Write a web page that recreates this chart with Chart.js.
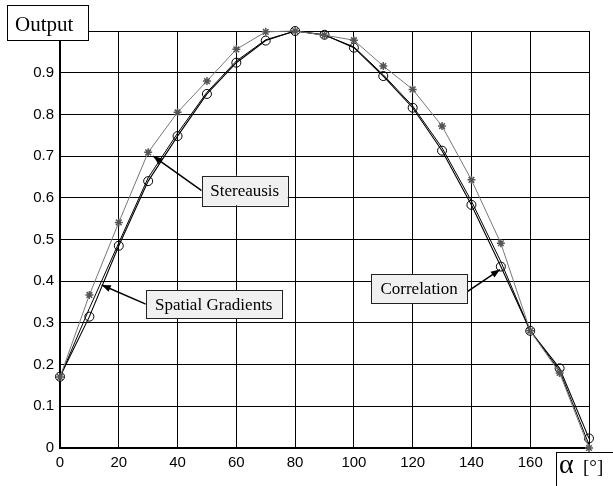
<!DOCTYPE html>
<html>
<head>
<meta charset="utf-8">
<script src="https://cdn.jsdelivr.net/npm/chart.js@4"></script>
<style>
html,body{margin:0;padding:0;background:#fff;}
canvas{display:block;}
</style>
</head>
<body>
<canvas id="c" width="613" height="486"></canvas>
<script>
// ---- data ----
const angles = [0,10,20,30,40,50,60,70,80,90,100,110,120,130,140,150,160,170,180];
const stereausis = [0.17,0.367,0.541,0.709,0.805,0.88,0.956,0.998,1.0,0.99,0.978,0.916,0.86,0.772,0.643,0.491,0.281,0.18,0.0];
const correlation = [0.171,0.315,0.485,0.64,0.748,0.849,0.924,0.977,1.0,0.991,0.96,0.892,0.816,0.713,0.583,0.435,0.281,0.191,0.023];
const spatialGradients = [0.17,0.335,0.492,0.648,0.755,0.853,0.928,0.979,1.0,0.99,0.962,0.895,0.82,0.72,0.592,0.447,0.281,0.185,0.008];
const xTicks = [0,20,40,60,80,100,120,140,160,180];
const yTicks = [0,0.1,0.2,0.3,0.4,0.5,0.6,0.7,0.8,0.9,1.0];

const toPts = (vals) => angles.map((a,i)=>({x:a,y:vals[i]}));

// annotations (data coordinates)
const notes = [
  {text:'Stereausis', box:[48.2,0.653,77.5,0.582], tail:[48.2,0.617], tip:[31.7,0.70]},
  {text:'Spatial Gradients', box:[29.2,0.379,75.4,0.311], tail:[29.2,0.345], tip:[14.2,0.391]},
  {text:'Correlation', box:[105.8,0.4175,138.6,0.347], tail:[138.6,0.375], tip:[149.7,0.428]}
];

const serif = '"Liberation Serif","Times New Roman",serif';
const sans = '"Liberation Sans",Arial,sans-serif';

function arrow(ctx,x1,y1,x2,y2){
  ctx.save();
  ctx.strokeStyle='#000'; ctx.fillStyle='#000'; ctx.lineWidth=1.5;
  ctx.beginPath(); ctx.moveTo(x1,y1); ctx.lineTo(x2,y2); ctx.stroke();
  const ang=Math.atan2(y2-y1,x2-x1), L=9, W=3.5;
  ctx.beginPath();
  ctx.moveTo(x2,y2);
  ctx.lineTo(x2-L*Math.cos(ang)+W*Math.sin(ang), y2-L*Math.sin(ang)-W*Math.cos(ang));
  ctx.lineTo(x2-L*Math.cos(ang)-W*Math.sin(ang), y2-L*Math.sin(ang)+W*Math.cos(ang));
  ctx.closePath(); ctx.fill();
  ctx.restore();
}

const overlay = {
  id:'overlay',
  afterDraw(chart){
    const ctx=chart.ctx, xs=chart.scales.x, ys=chart.scales.y;
    ctx.save();
    notes.forEach(n=>{
      const l=xs.getPixelForValue(n.box[0]), t=ys.getPixelForValue(n.box[1]);
      const r=xs.getPixelForValue(n.box[2]), b=ys.getPixelForValue(n.box[3]);
      arrow(ctx, xs.getPixelForValue(n.tail[0]), ys.getPixelForValue(n.tail[1]),
                 xs.getPixelForValue(n.tip[0]), ys.getPixelForValue(n.tip[1]));
      ctx.fillStyle='#f0f0f0'; ctx.fillRect(l,t,r-l,b-t);
      ctx.strokeStyle='#222'; ctx.lineWidth=1; ctx.strokeRect(Math.round(l)+0.5,Math.round(t)+0.5,Math.round(r-l),Math.round(b-t));
      ctx.fillStyle='#000'; ctx.font='17px '+serif; ctx.textAlign='center'; ctx.textBaseline='middle';
      ctx.fillText(n.text,(l+r)/2,(t+b)/2+1);
    });
    // Output box
    ctx.fillStyle='#fff'; ctx.fillRect(7,5,81,36);
    ctx.strokeStyle='#000'; ctx.lineWidth=1; ctx.strokeRect(7.5,5.5,81,35);
    ctx.fillStyle='#000'; ctx.font='21px '+serif; ctx.textAlign='left'; ctx.textBaseline='alphabetic';
    ctx.fillText('Output',15,31);
    // alpha box
    ctx.fillStyle='#fff'; ctx.fillRect(556,452,60,36);
    ctx.strokeStyle='#000'; ctx.strokeRect(556.5,452.5,60,36);
    ctx.fillStyle='#000'; ctx.font='28px '+serif;
    ctx.fillText('\u03B1',559,473);
    ctx.font='19px '+serif;
    ctx.fillText('[\u00B0]',583,473);
    ctx.restore();
  }
};

new Chart(document.getElementById('c'),{
  type:'line',
  data:{datasets:[
    {label:'Stereausis', data:toPts(stereausis), borderColor:'#777', borderWidth:1,
     pointStyle:'star', pointRadius:4, pointBorderColor:'#555', pointBorderWidth:1.5,
     pointBackgroundColor:'#555', fill:false, clip:false, tension:0},
    {label:'Spatial Gradients', data:toPts(spatialGradients), borderColor:'#000', borderWidth:1,
     pointRadius:0, fill:false, clip:false, tension:0},
    {label:'Correlation', data:toPts(correlation), borderColor:'#000', borderWidth:1.1,
     pointStyle:'circle', pointRadius:4.5, pointBorderColor:'#000', pointBorderWidth:1,
     pointBackgroundColor:'rgba(0,0,0,0)', fill:false, clip:false, tension:0}
  ]},
  options:{
    responsive:false, animation:false, devicePixelRatio:1,
    layout:{padding:{left:0,right:24,top:31,bottom:0}},
    plugins:{legend:{display:false}, tooltip:{enabled:false}},
    scales:{
      x:{type:'linear', min:0, max:180,
        afterBuildTicks:(s)=>{s.ticks=xTicks.map(v=>({value:v}));},
        ticks:{callback:(v)=>v===180?'':String(v), color:'#000', font:{family:sans,size:15}, padding:6, maxRotation:0},
        grid:{color:'#000', lineWidth:1, drawTicks:false},
        border:{color:'#000', width:2},
        afterFit:(s)=>{s.height=38;}
      },
      y:{min:0, max:1,
        afterBuildTicks:(s)=>{s.ticks=yTicks.map(v=>({value:v}));},
        ticks:{callback:(v)=>v>=1?'':(v===0?'0':v.toFixed(1)), color:'#000', font:{family:sans,size:15}, padding:6},
        grid:{color:'#000', lineWidth:1, drawTicks:false},
        border:{color:'#000', width:2},
        afterFit:(s)=>{s.width=60;}
      }
    }
  },
  plugins:[overlay]
});
</script>
</body>
</html>
